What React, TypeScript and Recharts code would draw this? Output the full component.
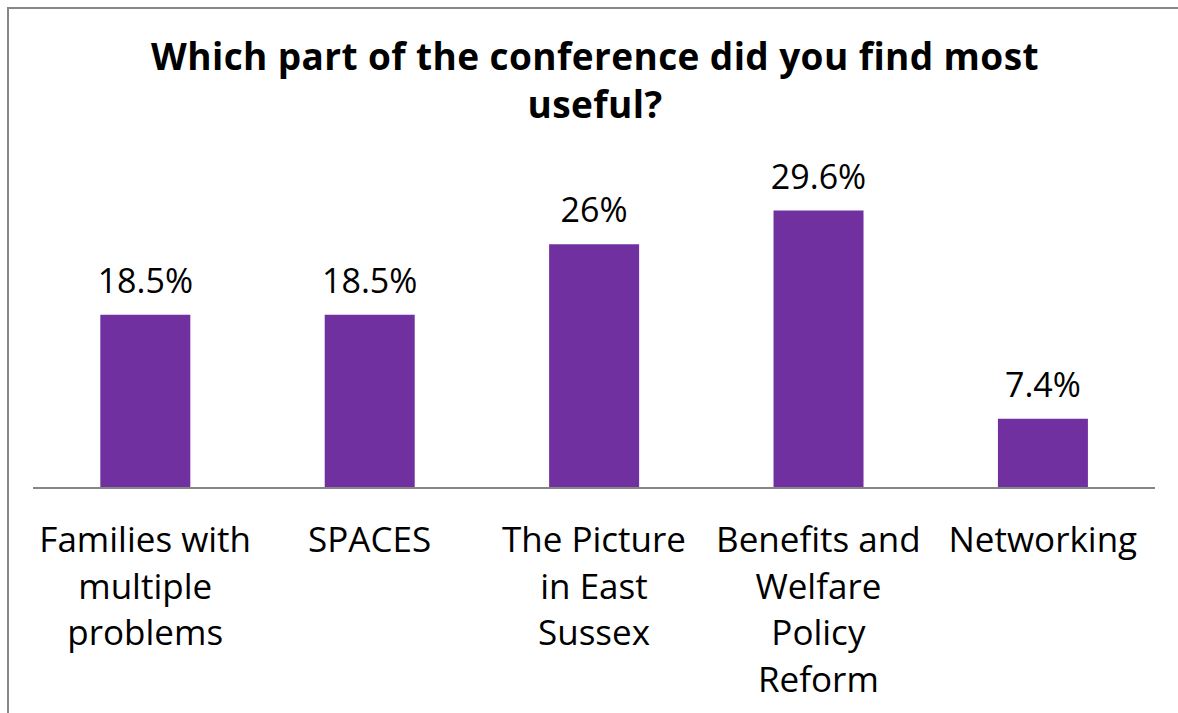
import { Bar, BarChart, LabelList, XAxis, YAxis } from "recharts";

const categories = [
  "Families with multiple problems",
  "SPACES",
  "The Picture in East Sussex",
  "Benefits and Welfare Policy Reform",
  "Networking",
];
const shares = [18.5, 18.5, 26, 29.6, 7.4];
const titleLines = ["Which part of the conference did you find most", "useful?"];

const data = categories.map((name, i) => ({ name, share: shares[i] }));

const FONT = "'Open Sans', Lato, sans-serif";
const TICK_SIZE = 35;

let ctx: CanvasRenderingContext2D | null = null;
function textWidth(s: string) {
  if (!ctx) ctx = document.createElement("canvas").getContext("2d");
  if (!ctx) return s.length * TICK_SIZE * 0.5;
  ctx.font = `${TICK_SIZE}px 'Open Sans'`;
  return ctx.measureText(s).width;
}

function wrap(label: string, maxWidth = 216) {
  const lines: string[] = [];
  let cur = "";
  for (const w of label.split(" ")) {
    const next = cur ? cur + " " + w : w;
    if (cur && textWidth(next) > maxWidth) {
      lines.push(cur);
      cur = w;
    } else cur = next;
  }
  if (cur) lines.push(cur);
  return lines;
}

function CategoryTick(props: any) {
  const { x, y, payload } = props;
  const lines = wrap(String(payload.value));
  return (
    <text x={x} y={y} textAnchor="middle" fill="#000" fontSize={TICK_SIZE} fontFamily={FONT}>
      {lines.map((l, i) => (
        <tspan key={i} x={x} dy={i === 0 ? 64 : 46.5}>
          {l}
        </tspan>
      ))}
    </text>
  );
}

export default function App() {
  return (
    <div
      style={{
        position: "fixed",
        left: 0,
        top: 0,
        width: 1178,
        height: 713,
        overflow: "hidden",
        background: "#fff",
      }}
    >
      <div
        style={{
          position: "absolute",
          left: 7,
          top: 7,
          width: 1171,
          height: 706,
          borderLeft: "2px solid #878787",
          borderTop: "2px solid #878787",
        }}
      />
      <div
        style={{
          position: "absolute",
          left: 0,
          top: 32,
          width: 1178,
          paddingLeft: 12,
          boxSizing: "border-box",
          textAlign: "center",
          fontFamily: FONT,
          fontWeight: 700,
          fontSize: 37,
          letterSpacing: 0.4,
          lineHeight: "48px",
          color: "#000",
        }}
      >
        {titleLines.map((t) => (
          <div key={t}>{t}</div>
        ))}
      </div>
      <div style={{ position: "absolute", left: 0, top: 0 }}>
        <BarChart
          width={1178}
          height={713}
          data={data}
          margin={{ top: 160, right: 23, bottom: 0, left: 33 }}
          barCategoryGap="30%"
        >
          <XAxis
            dataKey="name"
            height={225}
            tickLine={false}
            tickSize={0}
            tickMargin={0}
            axisLine={{ stroke: "#868686", strokeWidth: 2 }}
            tick={<CategoryTick />}
            interval={0}
          />
          <YAxis hide domain={[0, 35]} />
          <Bar dataKey="share" fill="#7030A0" isAnimationActive={false}>
            <LabelList
              dataKey="share"
              position="top"
              offset={22}
              formatter={(v: any) => `${v}%`}
              style={{ fill: "#000", fontSize: 34, fontFamily: FONT }}
            />
          </Bar>
        </BarChart>
      </div>
    </div>
  );
}
